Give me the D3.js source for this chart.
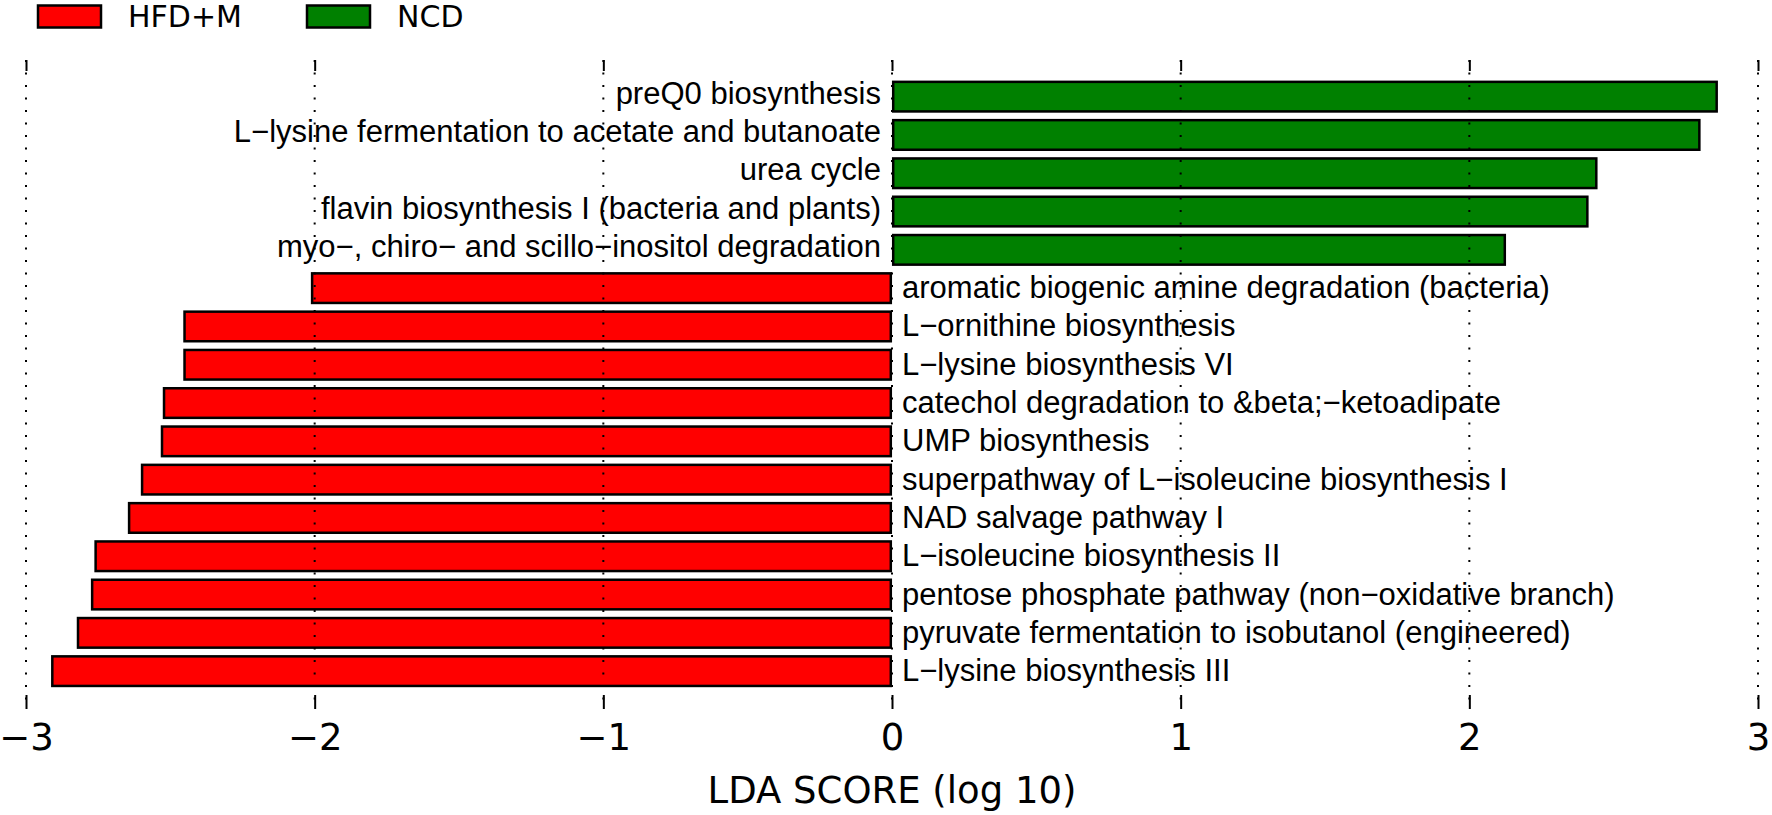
<!DOCTYPE html>
<html>
<head>
<meta charset="utf-8">
<script src="https://cdn.jsdelivr.net/npm/d3@7"></script>
<style>
  body { margin: 0; background: #fff; }
  .svg-container { width: 1772px; height: 815px; }
</style>
</head>
<body>
<div class="svg-container"></div>
<script>
// pathways, top to bottom
var pathways = [
  'preQ0 biosynthesis',
  'L\u2212lysine fermentation to acetate and butanoate',
  'urea cycle',
  'flavin biosynthesis I (bacteria and plants)',
  'myo\u2212, chiro\u2212 and scillo\u2212inositol degradation',
  'aromatic biogenic amine degradation (bacteria)',
  'L\u2212ornithine biosynthesis',
  'L\u2212lysine biosynthesis VI',
  'catechol degradation to &beta;\u2212ketoadipate',
  'UMP biosynthesis',
  'superpathway of L\u2212isoleucine biosynthesis I',
  'NAD salvage pathway I',
  'L\u2212isoleucine biosynthesis II',
  'pentose phosphate pathway (non\u2212oxidative branch)',
  'pyruvate fermentation to isobutanol (engineered)',
  'L\u2212lysine biosynthesis III'
];
var ldaScores = [2.861, 2.801, 2.444, 2.413, 2.127,
  -2.013, -2.455, -2.455, -2.526, -2.533, -2.602, -2.647, -2.763, -2.775, -2.824, -2.913];
var groups = ['HFD+M', 'NCD'];
var groupColors = ['#ff0000', '#008000'];
var xTicks = [-3, -2, -1, 0, 1, 2, 3];

document.addEventListener('DOMContentLoaded', function(event) {
  lefse.makeBoard();
});

let lefse = {
  mainSelect: '.svg-container',
  width: 1772,
  height: 815,
  axisTop: 60,
  axisBottom: 709,
  makeBoard(){
    d3.select(lefse.mainSelect).selectAll('svg').remove();
    var svg = d3.select(lefse.mainSelect).append('svg')
    .attr('width', lefse.width)
    .attr('height', lefse.height);

    var x = d3.scaleLinear().domain([-3, 3]).range([26, 1758]);
    var y = d3.scaleBand().domain(pathways)
    .range([77.5, 690.3])
    .paddingInner(0.1645)
    .paddingOuter(0.0822);

    // bars
    svg.append('g').selectAll('rect')
    .data(pathways)
    .join('rect')
    .attr('x', function(d, i){ return Math.min(x(0), x(ldaScores[i])) + 1.2; })
    .attr('width', function(d, i){ return Math.abs(x(ldaScores[i]) - x(0)) - 2.4; })
    .attr('y', function(d){ return y(d) + 1.2; })
    .attr('height', y.bandwidth() - 2.4)
    .style('fill', function(d, i){ return ldaScores[i] < 0 ? groupColors[0] : groupColors[1]; })
    .style('stroke', '#000')
    .style('stroke-width', 2.5);

    // labels on the opposite side of zero
    svg.append('g').selectAll('text')
    .data(pathways)
    .join('text')
    .attr('x', function(d, i){ return ldaScores[i] < 0 ? x(0) + 10 : x(0) - 11; })
    .attr('y', function(d, i){ return y(d) + y.bandwidth()/2 + (ldaScores[i] < 0 ? 10 : 7); })
    .attr('text-anchor', function(d, i){ return ldaScores[i] < 0 ? 'start' : 'end'; })
    .style('font-family', '"Liberation Sans", Arial, sans-serif')
    .style('font-size', '31px')
    .style('fill', '#000')
    .text(function(d){ return d; });

    // dotted grid, drawn over the bars
    svg.append('g').selectAll('line')
    .data(xTicks)
    .join('line')
    .attr('x1', function(d){ return x(d); })
    .attr('x2', function(d){ return x(d); })
    .attr('y1', lefse.axisTop)
    .attr('y2', lefse.axisBottom)
    .style('stroke', '#000')
    .style('stroke-width', 2)
    .style('stroke-dasharray', '2,10.5');

    // ticks, bottom and top
    var bottom = svg.append('g')
    .attr('transform', 'translate(0,' + lefse.axisBottom + ')')
    .call(d3.axisBottom(x).tickValues(xTicks).tickSizeInner(-14).tickSizeOuter(0)
      .tickFormat(function(d){ return d < 0 ? '\u2212' + Math.abs(d) : d; }));
    bottom.select('.domain').remove();
    bottom.selectAll('.tick line').style('stroke', '#000').style('stroke-width', 2);
    bottom.selectAll('.tick text')
    .attr('y', 41)
    .attr('dy', 0)
    .style('font-family', '"DejaVu Sans", sans-serif')
    .style('font-size', '37px')
    .style('fill', '#000');

    var top = svg.append('g')
    .attr('transform', 'translate(0,' + lefse.axisTop + ')')
    .call(d3.axisTop(x).tickValues(xTicks).tickSizeInner(-11).tickSizeOuter(0).tickFormat(''));
    top.select('.domain').remove();
    top.selectAll('.tick line').style('stroke', '#000').style('stroke-width', 2);

    svg.append('text')
    .attr('x', x(0))
    .attr('y', 803)
    .attr('text-anchor', 'middle')
    .style('font-family', '"DejaVu Sans", sans-serif')
    .style('font-size', '37px')
    .text('LDA SCORE (log 10)');

    lefse.makeLegend(svg);
  },
  makeLegend(svg){
    var legendX = [37, 306];
    var leg = svg.append('g').selectAll('g')
    .data(groups)
    .join('g')
    .attr('transform', function(d, i){ return 'translate(' + legendX[i] + ',0)'; });
    leg.append('rect')
    .attr('x', 1)
    .attr('y', 5.5)
    .attr('width', 63)
    .attr('height', 22)
    .style('fill', function(d, i){ return groupColors[i]; })
    .style('stroke', '#000')
    .style('stroke-width', 2.5);
    leg.append('text')
    .attr('x', 91)
    .attr('y', 27)
    .style('font-family', '"DejaVu Sans", sans-serif')
    .style('font-size', '30px')
    .text(function(d){ return d; });
  }
};
</script>
</body>
</html>
